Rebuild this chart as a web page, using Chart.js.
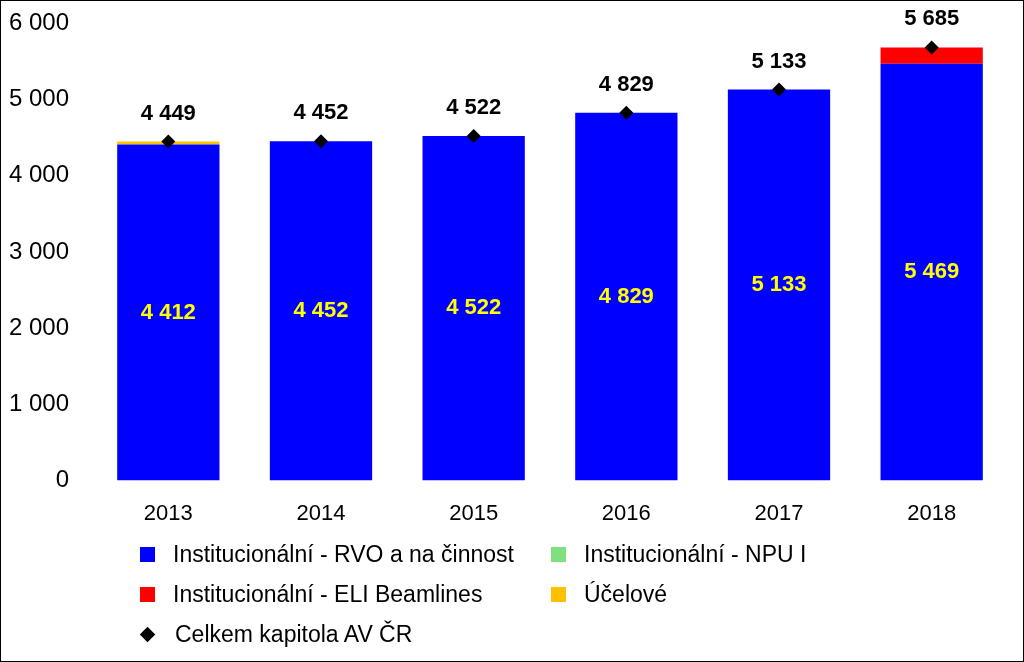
<!DOCTYPE html>
<html>
<head>
<meta charset="utf-8">
<script src="https://cdn.jsdelivr.net/npm/chart.js@4.4.1/dist/chart.umd.min.js"></script>
<style>
  html, body { margin: 0; padding: 0; background: #fff; }
  #frame { position: relative; width: 1022px; height: 660px; border: 1px solid #000; overflow: hidden; }
  #chart-box { position: absolute; left: 0; top: -7px; width: 1022px; height: 545px; }
  .legend { position: absolute; left: 136px; top: 533px; font-family: "Liberation Sans", Arial, sans-serif; font-size: 23px; color: #000; }
  .legend-row { display: flex; height: 40px; align-items: center; }
  .legend-item { display: flex; align-items: center; }
  .legend-item.col1 { width: 411px; }
  .legend-box { width: 15px; height: 15px; margin: 0 18px 0 3px; }
  .legend-diamond { width: 11px; height: 11px; background: #000; transform: rotate(45deg); margin: 0 22px 0 5px; }
</style>
</head>
<body>
<div id="frame">
  <div id="chart-box"><canvas id="canvas-kapitola"></canvas></div>
  <div class="legend">
    <div class="legend-row">
      <div class="legend-item col1"><span class="legend-box" style="background:#0000ff;"></span><span>Institucionální - RVO a na činnost</span></div>
      <div class="legend-item"><span class="legend-box" style="background:#7ee07e;"></span><span>Institucionální - NPU I</span></div>
    </div>
    <div class="legend-row">
      <div class="legend-item col1"><span class="legend-box" style="background:#ff0000;"></span><span>Institucionální - ELI Beamlines</span></div>
      <div class="legend-item"><span class="legend-box" style="background:#ffc000;"></span><span>Účelové</span></div>
    </div>
    <div class="legend-row">
      <div class="legend-item col1"><span class="legend-diamond"></span><span>Celkem kapitola AV ČR</span></div>
    </div>
  </div>
</div>
<script>
const years = ['2013', '2014', '2015', '2016', '2017', '2018'];
const rvoValues = [4412, 4452, 4522, 4829, 5133, 5469];
const npuValues = [0, 0, 0, 0, 0, 3];
const eliValues = [0, 0, 0, 0, 0, 213];
const ucelValues = [37, 0, 0, 0, 0, 0];
const totalValues = [4449, 4452, 4522, 4829, 5133, 5685];
const yTicks = [0, 1000, 2000, 3000, 4000, 5000, 6000];

const FONT = '"Liberation Sans", Arial, sans-serif';

function fmt(v) {
  return String(v).replace(/\B(?=(\d{3})+(?!\d))/g, ' ');
}

// draws the value labels (no datalabels plugin available offline)
const valueLabels = {
  id: 'valueLabels',
  afterDatasetsDraw(chart) {
    const ctx = chart.ctx;
    ctx.save();
    ctx.textAlign = 'center';
    ctx.textBaseline = 'middle';
    ctx.font = 'bold 22px ' + FONT;

    const rvoMeta = chart.getDatasetMeta(0);
    rvoMeta.data.forEach((bar, i) => {
      const mid = (bar.y + bar.base) / 2;
      ctx.fillStyle = '#ffff00';
      ctx.fillText(fmt(rvoValues[i]), bar.x, mid);
    });

    const totalMeta = chart.getDatasetMeta(4);
    totalMeta.data.forEach((pt, i) => {
      ctx.fillStyle = '#000';
      ctx.fillText(fmt(totalValues[i]), pt.x, pt.y - 28);
    });
    ctx.restore();
  }
};

const ctx = document.getElementById('canvas-kapitola').getContext('2d');
new Chart(ctx, {
  type: 'bar',
  data: {
    labels: years,
    datasets: [
      { label: 'Institucionální - RVO a na činnost', data: rvoValues, backgroundColor: '#0000ff', stack: 's', order: 1 },
      { label: 'Institucionální - NPU I', data: npuValues, backgroundColor: '#7ee07e', stack: 's', order: 1 },
      { label: 'Institucionální - ELI Beamlines', data: eliValues, backgroundColor: '#ff0000', stack: 's', order: 1 },
      { label: 'Účelové', data: ucelValues, backgroundColor: '#ffc000', stack: 's', order: 1 },
      {
        type: 'line', label: 'Celkem kapitola AV ČR', data: totalValues, stack: 'total', order: 0,
        showLine: false, pointStyle: 'rectRot', pointRadius: 7, pointHoverRadius: 7,
        backgroundColor: '#000', borderColor: '#000', borderWidth: 0
      }
    ]
  },
  options: {
    responsive: true,
    maintainAspectRatio: false,
    animation: false,
    layout: { padding: { top: 0, right: 15, left: 8, bottom: 0 } },
    datasets: { bar: { categoryPercentage: 0.67, barPercentage: 1.0 } },
    scales: {
      x: {
        stacked: true,
        grid: { display: false },
        border: { display: false },
        ticks: { color: '#000', font: { family: FONT, size: 22 }, padding: 12 }
      },
      y: {
        stacked: true,
        min: 0, max: 6000,
        afterBuildTicks: axis => { axis.ticks = yTicks.map(v => ({ value: v })); },
        afterFit: axis => { axis.width = 83; },
        grid: { display: false },
        border: { display: false },
        ticks: { color: '#000', font: { family: FONT, size: 24 }, padding: 15, callback: v => fmt(v) }
      }
    },
    plugins: {
      legend: { display: false },
      tooltip: { enabled: false }
    }
  },
  plugins: [valueLabels]
});
</script>
</body>
</html>
